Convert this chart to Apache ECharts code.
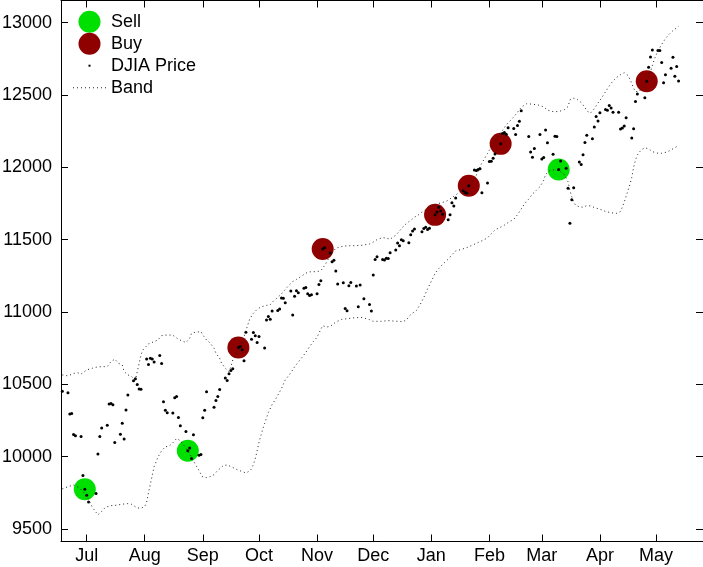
<!DOCTYPE html>
<html>
<head>
<meta charset="utf-8">
<script src="https://cdn.jsdelivr.net/npm/echarts@6.0.0/dist/echarts.min.js"></script>
<style>
  html, body { margin: 0; padding: 0; background: #fff; }
  #chart { width: 703px; height: 567px; }
</style>
</head>
<body>
<div id="chart"></div>
<script>
// DJIA daily closes, Jun 2010 - May 2011
const priceDates = [
  '2010-06-18','2010-06-21','2010-06-22','2010-06-23','2010-06-24','2010-06-25','2010-06-28','2010-06-29','2010-06-30',
  '2010-07-01','2010-07-02','2010-07-06','2010-07-07','2010-07-08','2010-07-09','2010-07-12','2010-07-13','2010-07-14','2010-07-15','2010-07-16','2010-07-19','2010-07-20','2010-07-21','2010-07-22','2010-07-23','2010-07-26','2010-07-27','2010-07-28','2010-07-29','2010-07-30',
  '2010-08-02','2010-08-03','2010-08-04','2010-08-05','2010-08-06','2010-08-09','2010-08-10','2010-08-11','2010-08-12','2010-08-13','2010-08-16','2010-08-17','2010-08-18','2010-08-19','2010-08-20','2010-08-23','2010-08-24','2010-08-25','2010-08-26','2010-08-27','2010-08-30','2010-08-31',
  '2010-09-01','2010-09-02','2010-09-03','2010-09-07','2010-09-08','2010-09-09','2010-09-10','2010-09-13','2010-09-14','2010-09-15','2010-09-16','2010-09-17','2010-09-20','2010-09-21','2010-09-22','2010-09-23','2010-09-24','2010-09-27','2010-09-28','2010-09-29','2010-09-30',
  '2010-10-01','2010-10-04','2010-10-05','2010-10-06','2010-10-07','2010-10-08','2010-10-11','2010-10-12','2010-10-13','2010-10-14','2010-10-15','2010-10-18','2010-10-19','2010-10-20','2010-10-21','2010-10-22','2010-10-25','2010-10-26','2010-10-27','2010-10-28','2010-10-29',
  '2010-11-01','2010-11-02','2010-11-03','2010-11-04','2010-11-05','2010-11-08','2010-11-09','2010-11-10','2010-11-11','2010-11-12','2010-11-15','2010-11-16','2010-11-17','2010-11-18','2010-11-19','2010-11-22','2010-11-23','2010-11-24','2010-11-26','2010-11-29','2010-11-30',
  '2010-12-01','2010-12-02','2010-12-03','2010-12-06','2010-12-07','2010-12-08','2010-12-09','2010-12-10','2010-12-13','2010-12-14','2010-12-15','2010-12-16','2010-12-17','2010-12-20','2010-12-21','2010-12-22','2010-12-23','2010-12-27','2010-12-28','2010-12-29','2010-12-30','2010-12-31',
  '2011-01-03','2011-01-04','2011-01-05','2011-01-06','2011-01-07','2011-01-10','2011-01-11','2011-01-12','2011-01-13','2011-01-14','2011-01-18','2011-01-19','2011-01-20','2011-01-21','2011-01-24','2011-01-25','2011-01-26','2011-01-27','2011-01-28','2011-01-31',
  '2011-02-01','2011-02-02','2011-02-03','2011-02-04','2011-02-07','2011-02-08','2011-02-09','2011-02-10','2011-02-11','2011-02-14','2011-02-15','2011-02-16','2011-02-17','2011-02-18','2011-02-22','2011-02-23','2011-02-24','2011-02-25','2011-02-28',
  '2011-03-01','2011-03-02','2011-03-03','2011-03-04','2011-03-07','2011-03-08','2011-03-09','2011-03-10','2011-03-11','2011-03-14','2011-03-15','2011-03-16','2011-03-17','2011-03-18','2011-03-21','2011-03-22','2011-03-23','2011-03-24','2011-03-25','2011-03-28','2011-03-29','2011-03-30','2011-03-31',
  '2011-04-01','2011-04-04','2011-04-05','2011-04-06','2011-04-07','2011-04-08','2011-04-11','2011-04-12','2011-04-13','2011-04-14','2011-04-15','2011-04-18','2011-04-19','2011-04-20','2011-04-21','2011-04-25','2011-04-26','2011-04-27','2011-04-28','2011-04-29',
  '2011-05-02','2011-05-03','2011-05-04','2011-05-05','2011-05-06','2011-05-09','2011-05-10','2011-05-11','2011-05-12','2011-05-13'
];
const priceValues = [
  10451,10442,10294,10298,10153,10144,10139,9870,9774,
  9733,9686,9744,10018,10139,10198,10216,10363,10367,10359,10098,10154,10230,10121,10322,10425,10525,10538,10498,10467,10466,
  10674,10636,10680,10675,10654,10699,10644,10379,10320,10303,10302,10406,10416,10271,10214,10174,10040,10060,9986,10151,10010,10015,
  10269,10320,10448,10341,10387,10415,10463,10544,10526,10573,10595,10608,10754,10761,10739,10662,10860,10812,10858,10835,10788,
  10830,10751,10945,10968,10949,11006,11010,11020,11096,11095,11063,11144,10979,11108,11147,11133,11164,11169,11126,11114,11118,
  11125,11189,11215,11435,11444,11407,11347,11357,11283,11193,11202,11024,11008,11181,11204,11179,11036,11187,11092,11052,11006,
  11256,11362,11382,11362,11359,11372,11370,11410,11429,11477,11457,11499,11492,11478,11533,11559,11573,11555,11576,11585,11570,11578,
  11671,11691,11723,11697,11675,11637,11672,11755,11732,11787,11838,11825,11823,11872,11981,11977,11985,11990,11824,11892,
  12040,12042,12062,12092,12162,12233,12240,12229,12273,12268,12227,12288,12318,12391,12213,12106,12069,12130,12226,
  12058,12067,12258,12170,12090,12214,12213,11985,12044,11993,11855,11613,11775,11859,12037,12019,12086,12171,12221,12198,12279,12351,12320,
  12377,12400,12394,12427,12409,12380,12381,12264,12271,12285,12342,12202,12267,12454,12506,12480,12595,12691,12763,12811,
  12807,12808,12724,12584,12639,12685,12760,12630,12696,12596
];

// Trade signals (dates of the closes where they fire)
const sellDates = ['2010-06-30','2010-08-24','2011-03-10'];
const buyDates  = ['2010-09-20','2010-11-04','2011-01-03','2011-01-21','2011-02-07','2011-04-26'];

// Upper and lower trading band
const upperBand = [
  ['2010-06-18',10565],['2010-06-21',10558],['2010-06-24',10575],['2010-06-26',10580],['2010-06-28',10571],
  ['2010-07-01',10599],['2010-07-04',10611],['2010-07-06',10618],['2010-07-09',10622],['2010-07-12',10622],
  ['2010-07-14',10657],['2010-07-16',10673],['2010-07-18',10645],['2010-07-20',10634],['2010-07-21',10587],
  ['2010-07-23',10565],['2010-07-25',10553],['2010-07-27',10530],['2010-07-28',10587],['2010-07-29',10645],
  ['2010-07-30',10703],['2010-07-31',10737],['2010-08-03',10779],['2010-08-06',10795],['2010-08-08',10806],
  ['2010-08-10',10836],['2010-08-13',10841],['2010-08-16',10839],['2010-08-19',10811],['2010-08-20',10801],
  ['2010-08-23',10788],['2010-08-25',10818],['2010-08-26',10853],['2010-08-28',10860],['2010-08-31',10864],
  ['2010-09-01',10841],['2010-09-03',10806],['2010-09-05',10784],['2010-09-07',10749],['2010-09-08',10714],
  ['2010-09-10',10680],['2010-09-11',10645],['2010-09-13',10611],['2010-09-15',10587],['2010-09-16',10622],
  ['2010-09-17',10668],['2010-09-19',10714],['2010-09-22',10784],['2010-09-24',10870],['2010-09-26',10950],
  ['2010-09-28',10991],['2010-09-30',11018],['2010-10-02',11035],['2010-10-05',11045],['2010-10-07',11050],
  ['2010-10-09',11080],['2010-10-11',11100],['2010-10-13',11125],['2010-10-15',11155],['2010-10-17',11185],
  ['2010-10-19',11210],['2010-10-21',11225],['2010-10-24',11250],['2010-10-26',11268],['2010-10-28',11277],
  ['2010-11-01',11279],['2010-11-03',11285],['2010-11-05',11320],['2010-11-07',11365],['2010-11-09',11410],
  ['2010-11-11',11440],['2010-11-14',11452],['2010-11-17',11457],['2010-11-21',11458],['2010-11-25',11461],
  ['2010-11-29',11470],['2010-12-01',11483],['2010-12-03',11500],['2010-12-06',11514],['2010-12-08',11510],
  ['2010-12-10',11503],['2010-12-13',11530],['2010-12-15',11560],['2010-12-17',11590],['2010-12-19',11615],
  ['2010-12-21',11633],['2010-12-23',11655],['2010-12-25',11670],['2010-12-27',11690],['2010-12-30',11715],
  ['2011-01-02',11738],['2011-01-05',11750],['2011-01-09',11765],['2011-01-12',11790],['2011-01-15',11818],
  ['2011-01-18',11843],['2011-01-21',11868],['2011-01-24',11915],['2011-01-26',11975],['2011-01-28',12030],
  ['2011-01-31',12095],['2011-02-03',12165],['2011-02-06',12225],['2011-02-08',12255],['2011-02-10',12293],
  ['2011-02-12',12320],['2011-02-14',12348],['2011-02-16',12380],['2011-02-18',12415],['2011-02-21',12440],
  ['2011-02-24',12436],['2011-02-27',12431],['2011-03-02',12418],['2011-03-04',12395],['2011-03-07',12385],
  ['2011-03-10',12385],['2011-03-13',12398],['2011-03-15',12420],['2011-03-16',12466],['2011-03-18',12477],
  ['2011-03-20',12468],['2011-03-22',12448],['2011-03-24',12415],['2011-03-25',12390],['2011-03-27',12375],
  ['2011-03-29',12405],['2011-03-31',12445],['2011-04-02',12480],['2011-04-04',12523],['2011-04-06',12562],
  ['2011-04-08',12597],['2011-04-10',12622],['2011-04-12',12640],['2011-04-14',12654],['2011-04-16',12635],
  ['2011-04-18',12581],['2011-04-19',12546],['2011-04-20',12523],['2011-04-22',12525],['2011-04-24',12555],
  ['2011-04-26',12600],['2011-04-28',12660],['2011-04-30',12745],['2011-05-02',12805],['2011-05-04',12850],
  ['2011-05-06',12890],['2011-05-08',12920],['2011-05-10',12945],['2011-05-13',12975]
];
const lowerBand = [
  ['2010-06-18',9777],['2010-06-21',9792],['2010-06-24',9804],['2010-06-27',9785],['2010-06-30',9745],
  ['2010-07-02',9705],['2010-07-04',9650],['2010-07-06',9615],['2010-07-07',9598],['2010-07-08',9590],
  ['2010-07-09',9620],['2010-07-11',9650],['2010-07-14',9661],['2010-07-17',9664],['2010-07-20',9671],
  ['2010-07-23',9675],['2010-07-25',9670],['2010-07-28',9645],['2010-07-30',9643],['2010-08-01',9655],
  ['2010-08-02',9685],['2010-08-03',9750],['2010-08-04',9810],['2010-08-05',9870],['2010-08-06',9930],
  ['2010-08-08',9995],['2010-08-10',10040],['2010-08-12',10068],['2010-08-14',10072],['2010-08-16',10095],
  ['2010-08-18',10125],['2010-08-20',10110],['2010-08-22',10075],['2010-08-25',10020],['2010-08-27',9970],
  ['2010-08-29',9925],['2010-08-31',9880],['2010-09-01',9858],['2010-09-03',9855],['2010-09-05',9862],
  ['2010-09-07',9875],['2010-09-09',9905],['2010-09-12',9938],['2010-09-14',9942],['2010-09-16',9931],
  ['2010-09-19',9912],['2010-09-22',9896],['2010-09-24',9887],['2010-09-26',9900],['2010-09-27',9915],
  ['2010-09-28',9945],['2010-09-29',9985],['2010-09-30',10040],['2010-10-01',10100],['2010-10-02',10145],
  ['2010-10-03',10190],['2010-10-04',10230],['2010-10-06',10305],['2010-10-08',10360],['2010-10-10',10400],
  ['2010-10-13',10470],['2010-10-15',10530],['2010-10-18',10580],['2010-10-20',10620],['2010-10-23',10670],
  ['2010-10-26',10720],['2010-10-28',10760],['2010-10-30',10795],['2010-11-01',10825],['2010-11-03',10880],
  ['2010-11-04',10905],['2010-11-06',10895],['2010-11-08',10900],['2010-11-11',10930],['2010-11-14',10948],
  ['2010-11-17',10953],['2010-11-21',10960],['2010-11-25',10962],['2010-11-29',10947],['2010-12-01',10935],
  ['2010-12-05',10935],['2010-12-09',10940],['2010-12-13',10936],['2010-12-17',10933],['2010-12-19',10948],
  ['2010-12-20',10970],['2010-12-22',10992],['2010-12-24',11010],['2010-12-26',11050],['2010-12-28',11100],
  ['2010-12-30',11160],['2011-01-01',11212],['2011-01-03',11265],['2011-01-05',11300],['2011-01-07',11328],
  ['2011-01-10',11365],['2011-01-12',11395],['2011-01-14',11422],['2011-01-17',11432],['2011-01-20',11445],
  ['2011-01-23',11462],['2011-01-26',11480],['2011-01-28',11492],['2011-01-31',11512],['2011-02-02',11540],
  ['2011-02-04',11567],['2011-02-07',11586],['2011-02-09',11600],['2011-02-11',11618],['2011-02-14',11640],
  ['2011-02-16',11672],['2011-02-18',11712],['2011-02-20',11752],['2011-02-22',11780],['2011-02-24',11815],
  ['2011-02-26',11840],['2011-02-28',11866],['2011-03-02',11910],['2011-03-03',11950],['2011-03-05',11975],
  ['2011-03-08',11985],['2011-03-11',11970],['2011-03-13',11950],['2011-03-15',11900],['2011-03-16',11840],
  ['2011-03-17',11795],['2011-03-18',11760],['2011-03-19',11738],['2011-03-21',11727],['2011-03-23',11724],
  ['2011-03-25',11735],['2011-03-27',11733],['2011-03-29',11722],['2011-04-01',11710],['2011-04-04',11695],
  ['2011-04-07',11685],['2011-04-10',11682],['2011-04-12',11695],['2011-04-13',11725],['2011-04-14',11760],
  ['2011-04-15',11800],['2011-04-16',11840],['2011-04-17',11880],['2011-04-18',11930],['2011-04-19',12000],
  ['2011-04-20',12050],['2011-04-21',12085],['2011-04-23',12120],['2011-04-25',12135],['2011-04-27',12128],
  ['2011-04-29',12108],['2011-05-02',12097],['2011-05-04',12097],['2011-05-07',12106],['2011-05-10',12128],
  ['2011-05-13',12150]
];

// Axis ticks
const monthTicks  = ['2010-07-01','2010-08-01','2010-09-01','2010-10-01','2010-11-01','2010-12-01',
                     '2011-01-01','2011-02-01','2011-03-01','2011-04-01','2011-05-01'];
const monthLabels = ['Jul','Aug','Sep','Oct','Nov','Dec','Jan','Feb','Mar','Apr','May'];
const yTicks = [9500, 10000, 10500, 11000, 11500, 12000, 12500, 13000];

function toTime(s) {
  const p = s.split('-').map(Number);
  return Date.UTC(p[0], p[1] - 1, p[2]);
}

const tickTimes = monthTicks.map(toTime);
const priceData = priceDates.map((d, i) => [toTime(d), priceValues[i]]);
const closeOn = d => priceValues[priceDates.indexOf(d)];
const sellData = sellDates.map(d => [toTime(d), closeOn(d)]);
const buyData = buyDates.map(d => [toTime(d), closeOn(d)]);
const upperData = upperBand.map(p => [toTime(p[0]), p[1]]);
const lowerData = lowerBand.map(p => [toTime(p[0]), p[1]]);

const xMin = Date.UTC(2010, 5, 17, 7);
const xMax = Date.UTC(2011, 4, 26, 1);
const yMin = 9413;
const yMax = 13153;

const FONT = 'Liberation Sans, Arial, Helvetica, sans-serif';
const black = '#000';
const bandColor = '#222';
const bandStyle = { color: bandColor, width: 1, type: [1, 3] };

// Legend glyphs: a single small dot, and a dotted horizontal rule
const dotIcon = 'path://M0,0M22,22M10,10h2v2h-2z';
const dottedIcon = 'path://M0,0M33,22' +
  [0, 4, 8, 12, 16, 20, 24, 28, 32].map(x => 'M' + x + ',10.5h1v1h-1z').join('');

function monthName(v) {
  let best = 0;
  for (let i = 1; i < tickTimes.length; i++) {
    if (Math.abs(tickTimes[i] - v) < Math.abs(tickTimes[best] - v)) best = i;
  }
  return monthLabels[best];
}

const chart = echarts.init(document.getElementById('chart'), null, { renderer: 'canvas' });

const tickStyle = { inside: true, length: 7, lineStyle: { color: black, width: 1 } };

chart.setOption({
  animation: false,
  backgroundColor: '#fff',
  grid: { left: 61, right: 0, top: 0.5, bottom: 25.5, containLabel: false, outerBoundsMode: 'none' },
  legend: {
    orient: 'vertical',
    left: 73,
    top: 10.7,
    padding: 0,
    itemGap: 0,
    itemWidth: 33,
    itemHeight: 22,
    selectedMode: false,
    textStyle: { fontSize: 18, fontFamily: FONT, color: black },
    data: [
      'Sell',
      'Buy',
      { name: 'DJIA Price', icon: dotIcon },
      { name: 'Band', icon: dottedIcon, itemStyle: { color: bandColor } }
    ]
  },
  xAxis: [
    {
      type: 'value', position: 'bottom', min: xMin, max: xMax,
      axisLine: { onZero: false, lineStyle: { color: black, width: 1 } },
      axisTick: Object.assign({ customValues: tickTimes }, tickStyle),
      axisLabel: {
        customValues: tickTimes, formatter: monthName,
        fontSize: 18, fontFamily: FONT, color: black, margin: 6
      },
      splitLine: { show: false }
    },
    {
      type: 'value', position: 'top', min: xMin, max: xMax,
      axisLine: { onZero: false, lineStyle: { color: black, width: 1 } },
      axisTick: Object.assign({ customValues: tickTimes }, tickStyle),
      axisLabel: { show: false },
      splitLine: { show: false }
    }
  ],
  yAxis: [
    {
      type: 'value', position: 'left', min: yMin, max: yMax,
      axisLine: { show: true, onZero: false, lineStyle: { color: black, width: 1 } },
      axisTick: Object.assign({ customValues: yTicks }, tickStyle),
      axisLabel: {
        customValues: yTicks, formatter: v => String(v),
        fontSize: 18, fontFamily: FONT, color: black, margin: 9
      },
      splitLine: { show: false }
    },
    {
      type: 'value', position: 'right', min: yMin, max: yMax,
      axisLine: { show: true, onZero: false, lineStyle: { color: black, width: 1 } },
      axisTick: Object.assign({ customValues: yTicks }, tickStyle),
      axisLabel: { show: false },
      splitLine: { show: false }
    }
  ],
  series: [
    {
      name: 'Sell', type: 'scatter', data: sellData, xAxisIndex: 0, yAxisIndex: 0,
      symbol: 'circle', symbolSize: 22, silent: true,
      itemStyle: { color: '#00e000', opacity: 1 }
    },
    {
      name: 'Buy', type: 'scatter', data: buyData, xAxisIndex: 0, yAxisIndex: 0,
      symbol: 'circle', symbolSize: 22, silent: true,
      itemStyle: { color: '#8f0000', opacity: 1 }
    },
    {
      name: 'DJIA Price', type: 'scatter', data: priceData, xAxisIndex: 0, yAxisIndex: 0,
      symbol: 'circle', symbolSize: 3, silent: true,
      itemStyle: { color: black, opacity: 1 }
    },
    {
      name: 'Band', type: 'line', data: upperData, xAxisIndex: 0, yAxisIndex: 0,
      symbol: 'none', showSymbol: false, silent: true,
      lineStyle: bandStyle, itemStyle: { color: bandColor }
    },
    {
      name: 'Band', type: 'line', data: lowerData, xAxisIndex: 0, yAxisIndex: 0,
      symbol: 'none', showSymbol: false, silent: true,
      lineStyle: bandStyle, itemStyle: { color: bandColor }
    }
  ]
});
</script>
</body>
</html>
